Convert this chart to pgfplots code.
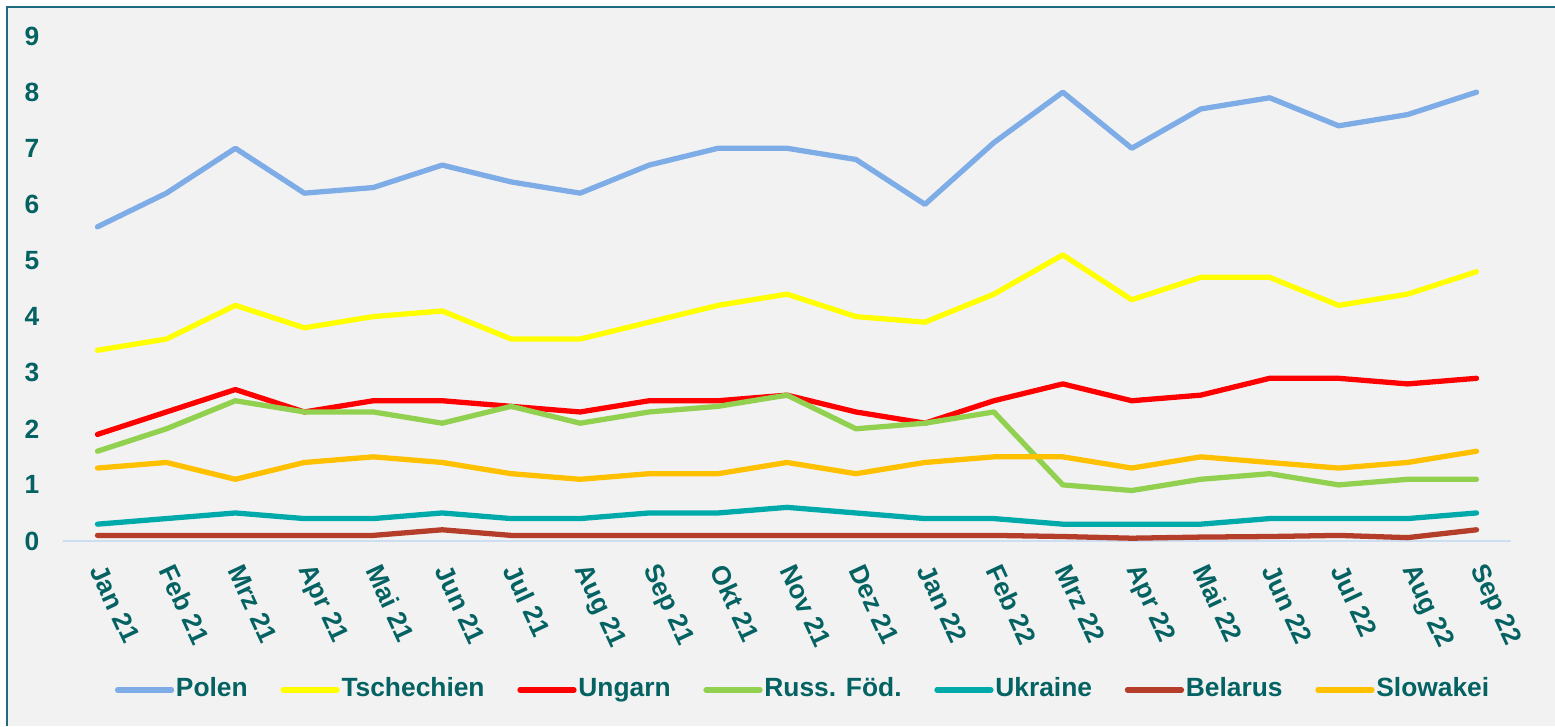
\documentclass[border=0pt]{standalone}
\usepackage{fontspec}
\setmainfont{Liberation Sans}
\usepackage{pgfplots}
\pgfplotsset{compat=1.18}

\definecolor{bgc}{RGB}{242,242,242}
\definecolor{framec}{RGB}{28,107,126}
\definecolor{txt}{RGB}{4,98,98}
\definecolor{axc}{RGB}{205,222,242}
\definecolor{cpl}{RGB}{126,172,230}
\definecolor{ccz}{RGB}{255,255,0}
\definecolor{chu}{RGB}{255,0,0}
\definecolor{cru}{RGB}{146,208,80}
\definecolor{cua}{RGB}{0,170,170}
\definecolor{cby}{RGB}{180,62,42}
\definecolor{csk}{RGB}{255,192,0}

\begin{document}
\begin{tikzpicture}
\fill[white] (0,0) rectangle (15.55,7.26);
\fill[bgc] (0.07,0) rectangle (15.55,7.19);
\draw[framec, line width=0.7pt] (0.07,0) -- (0.07,7.19) -- (15.55,7.19);
\begin{axis}[
  at={(0.63cm,1.85cm)}, anchor=south west,
  scale only axis,
  width=14.48cm, height=5.05cm,
  xmin=-0.5, xmax=20.5, ymin=0, ymax=9,
  axis x line=bottom, axis y line=left,
  x axis line style={-, draw=axc, line width=0.5pt},
  y axis line style={draw=none},
  major tick length=0pt,
  xtick={0,...,20},
  xticklabels={Jan 21,Feb 21,Mrz 21,Apr 21,Mai 21,Jun 21,Jul 21,Aug 21,Sep 21,Okt 21,Nov 21,Dez 21,Jan 22,Feb 22,Mrz 22,Apr 22,Mai 22,Jun 22,Jul 22,Aug 22,Sep 22},
  ytick={0,...,9},
  /pgf/number format/assume math mode=true,
  tick label style={font=\fontsize{7.5}{9}\selectfont\bfseries, text=txt},
  xticklabel style={yshift=-0.25cm, rotate=-65, anchor=west, inner sep=0pt},
  yticklabel style={anchor=center, xshift=-0.31cm},
  every axis plot/.append style={line width=1.5pt, line cap=round, line join=round, mark=none},
  legend columns=-1,
  legend style={at={(0.511,-0.295)}, anchor=center, draw=none, fill=none,
    font=\fontsize{7.5}{9}\selectfont\bfseries, text=txt,
    /tikz/every even column/.append style={column sep=0.31cm},
    nodes={inner sep=0.5pt}},
  legend image code/.code={\draw[#1] (0cm,0cm) -- (0.54cm,0cm);},
]
\addplot[cpl] coordinates {(0,5.6)(1,6.2)(2,7.0)(3,6.2)(4,6.3)(5,6.7)(6,6.4)(7,6.2)(8,6.7)(9,7.0)(10,7.0)(11,6.8)(12,6.0)(13,7.1)(14,8.0)(15,7.0)(16,7.7)(17,7.9)(18,7.4)(19,7.6)(20,8.0)};
\addlegendentry{Polen}
\addplot[ccz] coordinates {(0,3.4)(1,3.6)(2,4.2)(3,3.8)(4,4.0)(5,4.1)(6,3.6)(7,3.6)(8,3.9)(9,4.2)(10,4.4)(11,4.0)(12,3.9)(13,4.4)(14,5.1)(15,4.3)(16,4.7)(17,4.7)(18,4.2)(19,4.4)(20,4.8)};
\addlegendentry{Tschechien}
\addplot[chu] coordinates {(0,1.9)(1,2.3)(2,2.7)(3,2.3)(4,2.5)(5,2.5)(6,2.4)(7,2.3)(8,2.5)(9,2.5)(10,2.6)(11,2.3)(12,2.1)(13,2.5)(14,2.8)(15,2.5)(16,2.6)(17,2.9)(18,2.9)(19,2.8)(20,2.9)};
\addlegendentry{Ungarn}
\addplot[cru] coordinates {(0,1.6)(1,2.0)(2,2.5)(3,2.3)(4,2.3)(5,2.1)(6,2.4)(7,2.1)(8,2.3)(9,2.4)(10,2.6)(11,2.0)(12,2.1)(13,2.3)(14,1.0)(15,0.9)(16,1.1)(17,1.2)(18,1.0)(19,1.1)(20,1.1)};
\addlegendentry{Russ. Föd.}
\addplot[cua] coordinates {(0,0.3)(1,0.4)(2,0.5)(3,0.4)(4,0.4)(5,0.5)(6,0.4)(7,0.4)(8,0.5)(9,0.5)(10,0.6)(11,0.5)(12,0.4)(13,0.4)(14,0.3)(15,0.3)(16,0.3)(17,0.4)(18,0.4)(19,0.4)(20,0.5)};
\addlegendentry{Ukraine}
\addplot[cby] coordinates {(0,0.1)(1,0.1)(2,0.1)(3,0.1)(4,0.1)(5,0.2)(6,0.1)(7,0.1)(8,0.1)(9,0.1)(10,0.1)(11,0.1)(12,0.1)(13,0.1)(14,0.08)(15,0.05)(16,0.07)(17,0.08)(18,0.1)(19,0.06)(20,0.2)};
\addlegendentry{Belarus}
\addplot[csk] coordinates {(0,1.3)(1,1.4)(2,1.1)(3,1.4)(4,1.5)(5,1.4)(6,1.2)(7,1.1)(8,1.2)(9,1.2)(10,1.4)(11,1.2)(12,1.4)(13,1.5)(14,1.5)(15,1.3)(16,1.5)(17,1.4)(18,1.3)(19,1.4)(20,1.6)};
\addlegendentry{Slowakei}
\end{axis}
\pgfresetboundingbox
\path (0,0) rectangle (15.55,7.26);
\end{tikzpicture}
\end{document}
